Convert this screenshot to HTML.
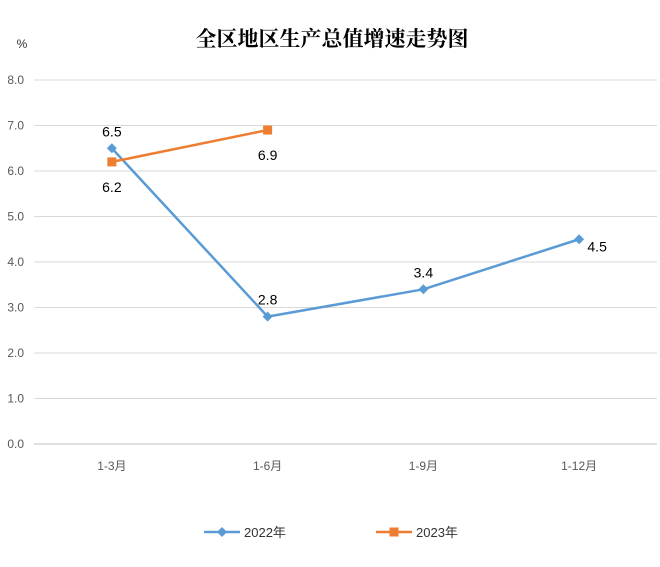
<!DOCTYPE html>
<html><head><meta charset="utf-8"><style>
body{margin:0;background:#fff;}
svg text{font-family:"Liberation Sans","Noto Sans CJK SC",sans-serif;}
</style></head><body>
<svg id="chart" width="660" height="562" viewBox="0 0 660 562" xmlns="http://www.w3.org/2000/svg">
<rect width="660" height="562" fill="#fff"/>
<text x="332" y="46" text-anchor="middle" font-size="21" font-weight="bold" fill="#000" style="font-family:'Noto Serif CJK SC','Noto Sans CJK SC',serif">全区地区生产总值增速走势图</text>
<text x="22" y="48" text-anchor="middle" font-size="12" fill="#333">%</text>
<g id="grid"></g><g id="yticks"></g><g id="xticks"></g><g id="series"></g>
<g>
<g>
<line x1="204" y1="532" x2="240" y2="532" stroke="#5B9BD5" stroke-width="2.5"/>
<path d="M222 527 L227 532 L222 537 L217 532Z" fill="#5B9BD5"/>
<text x="244" y="537" font-size="13" fill="#333">2022年</text></g>
<g>
<line x1="376" y1="532" x2="412" y2="532" stroke="#ED7D31" stroke-width="2.5"/>
<rect x="389.5" y="527.5" width="9" height="9" fill="#ED7D31"/>
<text x="416" y="537" font-size="13" fill="#333">2023年</text></g>
</g>
</svg>
<script>
const categories=["1-3月","1-6月","1-9月","1-12月"];
const values2022=[6.5,2.8,3.4,4.5];
const values2023=[6.2,6.9];
const yTicks=[0,1,2,3,4,5,6,7,8];
const NS="http://www.w3.org/2000/svg";
const x0=34,x1=657,y0=444,yTop=80,yMax=8;
const band=(x1-x0)/categories.length;
function xs(i){return x0+band*(i+0.5);}
function ys(v){return y0-(v/yMax)*(y0-yTop);}
function mk(t,a,p){const e=document.createElementNS(NS,t);for(const k in a)e.setAttribute(k,a[k]);p.appendChild(e);return e;}
const grid=document.getElementById('grid'),yt=document.getElementById('yticks'),xt=document.getElementById('xticks'),se=document.getElementById('series');
yTicks.forEach(v=>{
 const l=mk('line',{x1:x0,x2:x1,y1:ys(v),y2:ys(v),stroke:v===0?'#bfbfbf':'#d9d9d9','stroke-width':1},grid);
 
 
 const t=mk('text',{x:24,y:ys(v)+4,'text-anchor':'end','font-size':12,fill:'#595959'},yt);
 t.textContent=v.toFixed(1);
 
 
});
categories.forEach((c,i)=>{
 const t=mk('text',{x:xs(i),y:470,'text-anchor':'middle','font-size':12,fill:'#595959'},xt);
 t.textContent=c;
 
 
});
function line(vals,color,name){
 const p=mk('polyline',{points:vals.map((v,i)=>xs(i)+','+ys(v)).join(' '),fill:'none',stroke:color,'stroke-width':2.5},se);
 
 
}
line(values2022,'#5B9BD5','series-2022');
line(values2023,'#ED7D31','series-2023');
const off2022=[[0,-17],[0,-17],[0,-17],[18,7]];
values2022.forEach((v,i)=>{
 const x=xs(i),y=ys(v);
 const m=mk('path',{d:`M${x} ${y-5}L${x+5} ${y}L${x} ${y+5}L${x-5} ${y}Z`,fill:'#5B9BD5'},se);
 
 
 const t=mk('text',{x:x+off2022[i][0],y:y+off2022[i][1]+5,'text-anchor':'middle','font-size':14,fill:'#000'},se);
 t.textContent=v.toFixed(1);
 
 
});
values2023.forEach((v,i)=>{
 const x=xs(i),y=ys(v);
 const m=mk('rect',{x:x-4.5,y:y-4.5,width:9,height:9,fill:'#ED7D31'},se);
 
 
 const t=mk('text',{x:x,y:y+30,'text-anchor':'middle','font-size':14,fill:'#000'},se);
 t.textContent=v.toFixed(1);
 
 
});
</script>
</body></html>
